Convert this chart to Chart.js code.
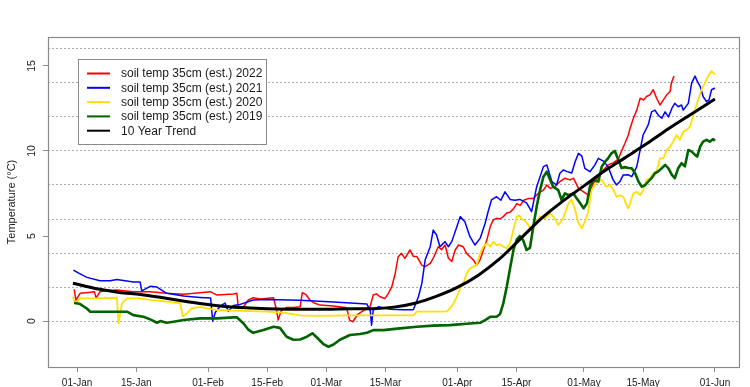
<!DOCTYPE html>
<html>
<head>
<meta charset="utf-8">
<script src="https://cdn.jsdelivr.net/npm/chart.js@4.4.1/dist/chart.umd.min.js"></script>
<style>
  html, body { margin: 0; padding: 0; background: #ffffff; }
  #wrap { width: 750px; height: 387px; }
</style>
</head>
<body>
<div id="wrap"><canvas id="c" width="750" height="387"></canvas></div>
<script>
// ---- Data (x = day offset from 01-Jan, y = temperature °C) ----
const tickDays = [0, 14, 31, 45, 59, 73, 90, 104, 120, 134, 151];
const tickLabels = ['01-Jan','15-Jan','01-Feb','15-Feb','01-Mar','15-Mar','01-Apr','15-Apr','01-May','15-May','01-Jun'];

const seriesLabels = ['soil temp 35cm (est.) 2022','soil temp 35cm (est.) 2021','soil temp 35cm (est.) 2020','soil temp 35cm (est.) 2019','10 Year Trend'];

const days2022 = [-0.7,-0.3,0.7,2.1,4.1,4.5,5.4,6.9,9.4,13.3,17.3,21.2,25.2,29.1,31.5,33.1,37.0,37.8,38.2,39.4,40.5,41.7,43.3,46.5,47.2,47.6,48.3,49.6,51.2,52.8,53.3,54.2,55.1,56.0,57.5,60.7,63.8,64.5,65.3,66.4,67.8,69.3,70.1,70.9,71.7,72.9,73.7,74.5,75.3,76.0,76.8,77.6,78.8,79.6,80.4,81.6,82.4,83.6,84.3,85.5,86.3,87.1,87.9,88.7,89.5,90.3,91.4,92.2,93.0,93.8,94.6,95.4,96.2,97.0,97.8,98.5,99.3,100.1,100.9,101.7,102.5,103.3,104.1,104.9,105.7,106.8,108.0,109.2,110.4,111.2,112.0,113.1,114.3,115.5,116.7,117.5,118.7,119.9,121.1,122.2,123.4,124.6,125.7,126.9,128.1,128.9,129.7,130.5,131.0,131.7,132.5,133.3,134.1,134.8,135.6,136.4,137.2,138.0,138.8,139.6,140.4,140.7,141.3];
const temps2022 = [1.86,1.24,1.63,1.67,1.73,1.35,1.73,1.78,1.82,1.73,1.73,1.63,1.57,1.67,1.73,1.53,1.59,1.63,0.74,0.84,1.24,1.37,1.30,1.37,0.65,0.06,0.6,0.8,0.8,0.84,1.67,1.55,1.24,1.08,0.94,0.88,0.78,0.06,-0.04,0.4,0.62,0.8,1.53,1.6,1.43,1.33,1.63,2.02,2.8,3.78,3.98,3.69,4.18,3.8,3.8,3.29,3.2,3.39,3.69,4.37,4.2,4.47,3.69,3.5,4.18,4.47,4.37,3.98,3.78,3.6,3.29,3.6,4.18,4.76,5.55,5.94,6.04,6.0,6.14,6.35,6.4,6.6,6.9,6.8,7.1,7.2,7.2,7.51,7.7,8.0,7.8,7.9,8.2,8.4,8.3,8.4,7.8,7.6,7.4,8.1,8.49,8.88,9.18,9.3,9.5,10.0,10.45,10.94,11.4,11.92,12.4,13.1,13.0,13.2,13.3,13.6,13.1,12.7,13.0,13.3,13.5,14.0,14.4];

const days2021 = [-0.9,0.5,2.3,5.4,7.8,9.4,13.3,14.9,15.3,17.3,18.9,21.2,25.2,29.1,31.6,32.1,32.7,33.8,35.0,35.8,37.0,38.6,41.7,44.9,52.8,60.7,68.6,69.4,69.7,70.1,71.3,74.1,77.2,79.6,80.8,81.6,82.4,83.6,84.3,85.1,85.9,87.1,87.9,88.7,89.9,90.7,91.8,93.0,94.2,95.4,96.6,97.3,98.1,99.3,100.3,101.3,102.5,103.6,104.8,106.4,107.6,108.8,110.4,111.2,112.4,113.5,114.3,115.1,115.9,117.1,117.9,118.7,119.5,120.2,121.4,122.6,123.4,124.6,125.7,126.9,127.7,128.5,129.3,130.5,131.3,132.5,133.3,134.0,135.2,136.0,136.8,137.6,138.4,139.2,140.0,140.8,141.5,142.3,143.1,143.5,144.7,145.5,146.3,146.8,147.5,148.2,149.0,149.6,150.2,151.0];
const temps2021 = [3.0,2.8,2.57,2.37,2.37,2.45,2.3,2.3,1.77,2.04,2.0,1.63,1.47,1.39,1.35,0.0,0.5,0.86,1.06,0.57,0.92,0.98,1.24,1.27,1.22,1.12,1.0,0.6,-0.24,0.65,0.84,0.69,0.67,0.67,1.43,2.2,3.6,4.37,5.35,5.06,4.37,4.67,4.37,4.67,5.55,6.14,5.84,4.96,4.47,4.86,5.75,6.43,7.12,7.31,7.1,7.6,7.15,7.1,7.15,6.95,6.43,7.9,9.08,9.18,8.2,8.0,8.69,8.88,8.8,8.7,9.37,9.86,9.7,8.98,8.78,9.18,9.57,9.4,9.08,8.3,8.0,8.2,8.59,8.6,8.49,9.08,10.06,10.94,11.53,12.3,12.4,12.1,11.92,12.3,12.0,12.5,12.8,12.6,12.7,12.4,12.8,14.0,14.4,14.1,13.8,13.2,12.9,13.0,13.6,13.7];

const days2020 = [-1.0,-0.5,0.7,3.9,9.4,9.8,10.6,11.8,14.9,17.3,21.2,24.4,25.0,26.0,27.1,29.1,33.1,37.0,44.9,48.8,52.8,56.7,64.6,72.5,79.6,80.4,85.1,87.5,88.3,89.1,89.9,90.7,91.4,92.2,93.0,93.8,94.6,95.4,96.2,97.0,97.8,98.5,99.3,100.1,100.9,101.7,102.5,103.3,104.1,104.7,105.3,106.0,106.8,107.6,108.4,109.6,110.8,112.0,113.1,113.9,115.1,116.3,117.1,117.9,118.7,119.5,120.2,121.0,121.8,123.0,124.2,125.3,126.2,127.0,127.7,128.5,129.3,130.1,130.5,130.9,131.7,132.5,133.3,134.0,134.8,135.6,136.4,137.2,138.0,138.8,139.6,140.4,141.1,141.9,142.7,143.5,144.3,145.1,145.9,146.5,147.3,147.8,148.6,149.4,150.2,151.0];
const temps2020 = [1.43,1.0,1.33,1.33,1.37,-0.14,1.04,1.33,1.33,1.24,1.14,1.04,0.29,0.45,0.74,0.84,0.65,0.61,0.55,0.5,0.33,0.3,0.33,0.33,0.34,0.55,0.55,0.57,0.74,1.04,1.43,1.92,2.2,2.8,3.1,3.2,3.29,3.98,4.37,4.57,4.37,4.67,4.47,4.52,4.37,4.27,4.57,5.4,6.14,6.2,6.0,5.9,5.65,5.25,5.75,6.14,6.04,6.33,6.04,5.65,6.04,6.92,7.12,6.53,5.75,5.45,5.84,6.43,7.7,8.2,8.3,7.9,8.0,7.7,7.31,7.4,7.3,6.82,6.63,6.9,7.51,7.6,7.4,7.7,8.3,8.4,8.69,8.8,9.57,9.57,10.06,10.25,10.55,10.94,10.65,11.14,11.24,11.43,12.12,12.6,13.2,13.6,14.0,14.4,14.7,14.5];

const days2019 = [-0.7,0.7,2.3,3.1,9.4,11.8,13.3,15.7,17.3,18.9,19.7,21.2,22.8,25.2,29.1,33.1,37.0,37.8,39.4,40.5,41.7,44.1,46.5,48.0,49.6,51.2,52.8,54.4,55.7,56.7,58.3,59.5,60.7,62.2,64.6,67.0,68.6,70.1,72.5,76.4,80.4,84.3,88.3,93.0,95.4,96.6,97.8,99.3,100.1,100.9,101.7,102.5,103.3,104.1,104.8,105.6,106.4,107.2,108.0,108.8,109.6,110.4,111.2,112.0,112.7,113.9,114.7,115.5,116.3,117.5,118.3,119.1,119.9,120.7,121.4,122.2,123.4,124.2,125.0,125.7,126.5,127.3,128.1,128.9,129.7,130.5,131.3,132.1,132.9,133.7,134.5,135.2,136.0,136.8,137.6,138.4,139.2,140.0,140.8,141.5,142.3,143.1,143.9,144.7,145.5,146.3,146.8,147.5,148.2,149.0,149.8,150.6,151.0];
const temps2019 = [1.08,1.0,0.74,0.55,0.55,0.55,0.35,0.25,0.1,-0.1,0.0,-0.1,-0.04,0.06,0.16,0.16,0.22,0.22,-0.14,-0.5,-0.69,-0.53,-0.33,-0.4,-0.92,-1.1,-1.08,-0.92,-0.72,-0.95,-1.35,-1.51,-1.38,-1.1,-0.82,-0.76,-0.69,-0.53,-0.53,-0.43,-0.33,-0.27,-0.24,-0.14,-0.1,0.06,0.25,0.25,0.4,1.04,2.0,3.1,4.18,4.8,5.0,4.75,4.18,4.3,5.55,6.73,7.7,8.49,8.78,8.29,7.9,7.7,7.12,7.51,7.4,7.5,7.2,6.92,6.63,6.92,7.9,8.29,8.2,9.08,9.37,9.57,9.86,10.0,9.5,9.0,9.05,9.0,8.98,8.69,8.2,7.9,8.0,8.2,8.4,8.69,8.8,8.98,9.18,8.98,8.59,8.4,8.98,9.28,9.1,10.06,9.96,9.77,9.67,10.25,10.55,10.65,10.55,10.7,10.6];

const trendDays = [-1,5,10,15,20,25,30,35,40,45,50,55,60,65,70,75,80,85,90,95,100,105,110,115,120,125,130,135,140,145,151];
const trendTemps = [2.22,1.88,1.68,1.56,1.38,1.18,1.0,0.86,0.78,0.73,0.7,0.69,0.7,0.72,0.73,0.82,1.05,1.45,1.98,2.7,3.65,4.85,6.05,7.05,7.95,8.85,9.65,10.45,11.3,12.1,13.05];

// ---- Build datasets ----
const toPts = (xs, ys) => xs.map((x, i) => ({ x: x, y: ys[i] }));
const seriesColors = ['#ff0000', '#0000ff', '#ffe000', '#006400', '#000000'];
const FONT = "'Liberation Sans', Arial, sans-serif";

const datasets = [
  { label: seriesLabels[0], data: toPts(days2022, temps2022), borderColor: seriesColors[0], borderWidth: 1.5, order: 5 },
  { label: seriesLabels[1], data: toPts(days2021, temps2021), borderColor: seriesColors[1], borderWidth: 1.5, order: 4 },
  { label: seriesLabels[2], data: toPts(days2020, temps2020), borderColor: seriesColors[2], borderWidth: 1.8, order: 3 },
  { label: seriesLabels[3], data: toPts(days2019, temps2019), borderColor: seriesColors[3], borderWidth: 2.6, order: 2 },
  { label: seriesLabels[4], data: toPts(trendDays, trendTemps), borderColor: seriesColors[4], borderWidth: 3, order: 1, cubicInterpolationMode: 'monotone' }
].map(d => Object.assign({ pointRadius: 0, fill: false, tension: 0, borderJoinStyle: 'round' }, d));

// ---- Plugins: plot box and legend box ----
const boxPlugin = {
  id: 'box',
  beforeDatasetsDraw(chart) {
    const a = chart.chartArea, ctx = chart.ctx;
    ctx.save();
    ctx.strokeStyle = '#8a8a8a';
    ctx.lineWidth = 1.2;
    ctx.strokeRect(Math.round(a.left) + 0.5, Math.round(a.top) + 0.5, Math.round(a.right - a.left), Math.round(a.bottom - a.top));
    ctx.restore();
  }
};

const legendPlugin = {
  id: 'legendBox',
  afterDraw(chart) {
    const ctx = chart.ctx;
    const bx = 78, by = 59, bw = 188, bh = 85;
    ctx.save();
    ctx.fillStyle = '#ffffff';
    ctx.fillRect(bx, by, bw, bh);
    ctx.strokeStyle = '#8a8a8a';
    ctx.lineWidth = 1;
    ctx.strokeRect(bx + 0.5, by + 0.5, bw, bh);
    ctx.font = '12px ' + FONT;
    ctx.textBaseline = 'middle';
    ctx.textAlign = 'left';
    seriesLabels.forEach((lab, i) => {
      const y = 73.5 + i * 14.3;
      ctx.strokeStyle = seriesColors[i];
      ctx.lineWidth = 2;
      ctx.beginPath();
      ctx.moveTo(87, y);
      ctx.lineTo(110, y);
      ctx.stroke();
      ctx.fillStyle = '#1a1a1a';
      ctx.fillText(lab, 121, y + 0.5);
    });
    ctx.restore();
  }
};

new Chart(document.getElementById('c'), {
  type: 'line',
  data: { datasets: datasets },
  plugins: [boxPlugin, legendPlugin],
  options: {
    responsive: false,
    animation: false,
    devicePixelRatio: 1,
    layout: { padding: { top: 37, right: 11, left: 0, bottom: 0 } },
    plugins: { legend: { display: false }, tooltip: { enabled: false } },
    scales: {
      x: {
        type: 'linear',
        min: -6.9,
        max: 156.7,
        afterBuildTicks: (scale) => { scale.ticks = tickDays.map(v => ({ value: v })); },
        afterFit: (scale) => { scale.height = 20; },
        border: { display: false },
        grid: { drawOnChartArea: false, drawTicks: true, tickLength: 5, tickColor: '#8a8a8a', tickWidth: 1 },
        ticks: {
          autoSkip: false, maxRotation: 0, minRotation: 0, padding: 5,
          color: '#222222', font: { family: FONT, size: 10 },
          callback: (v) => { const i = tickDays.indexOf(v); return i >= 0 ? tickLabels[i] : ''; }
        }
      },
      y: {
        type: 'linear',
        min: -2.7,
        max: 16.7,
        afterFit: (scale) => { scale.width = 48; },
        border: { display: false, dash: [2, 2] },
        grid: {
          color: (ctx) => (ctx.tick && ctx.tick.value >= 0 && ctx.tick.value % 2 === 0) ? '#ababab' : 'rgba(0,0,0,0)',
          lineWidth: 1,
          drawTicks: true,
          tickLength: 5,
          tickColor: (ctx) => (ctx.tick && ctx.tick.value % 5 === 0) ? '#8a8a8a' : 'rgba(0,0,0,0)'
        },
        ticks: {
          stepSize: 1, includeBounds: false, autoSkip: false,
          minRotation: 90, maxRotation: 90, crossAlign: 'center', padding: 5,
          color: '#222222', font: { family: FONT, size: 10.5 },
          callback: (v) => (v % 5 === 0 ? String(v) : '')
        },
        title: {
          display: true, text: 'Temperature (°C)', color: '#222222',
          font: { family: FONT, size: 11 }, padding: { top: 5, bottom: 0 }
        }
      }
    }
  }
});
</script>
</body>
</html>
